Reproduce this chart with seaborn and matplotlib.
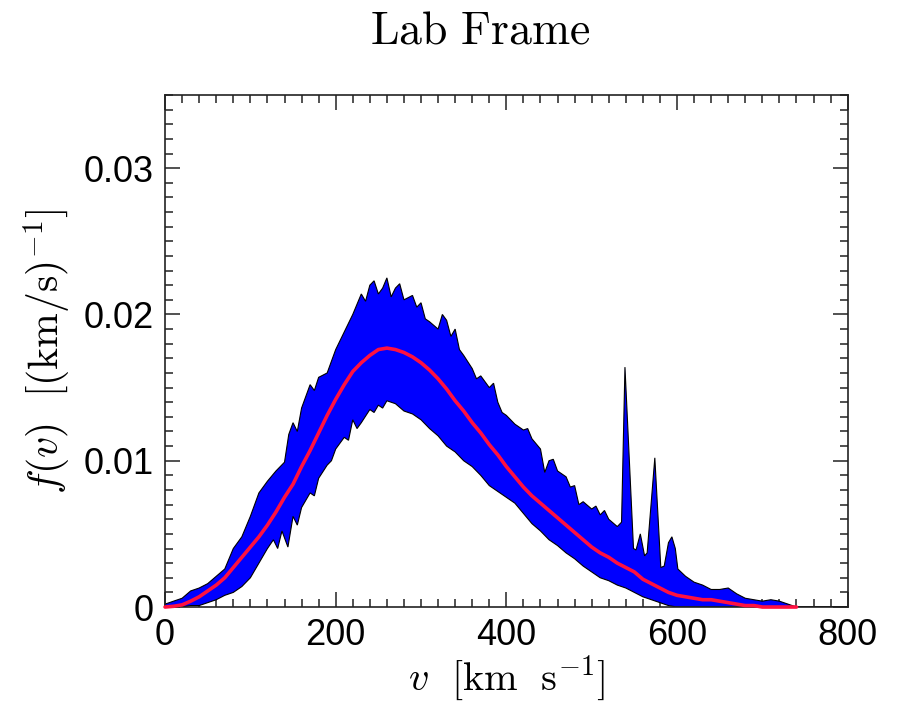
import numpy as np
import pandas as pd
import matplotlib
matplotlib.use("Agg")
import matplotlib.pyplot as plt
from matplotlib.ticker import MultipleLocator, FuncFormatter
import seaborn as sns

# Mean speed distribution (red curve)
v_mean = [0, 10, 20, 30, 40, 50, 60, 70, 80, 90, 100, 110, 120, 130, 140, 150,
          160, 170, 180, 190, 200, 210, 220, 230, 240, 250, 260, 270, 280, 290,
          300, 310, 320, 330, 340, 350, 360, 370, 380, 390, 400, 410, 420, 430,
          440, 450, 460, 470, 480, 490, 500, 510, 520, 530, 540, 550, 560, 570,
          580, 590, 600, 610, 620, 630, 640, 650, 660, 670, 680, 690, 700, 740]
f_mean = [0.0, 0.00005, 0.00015, 0.0004, 0.0007, 0.0011, 0.0015, 0.0020, 0.0027,
          0.0034, 0.0041, 0.0048, 0.0056, 0.0065, 0.0075, 0.0084, 0.0096, 0.0107,
          0.0119, 0.0131, 0.0142, 0.0152, 0.0161, 0.0167, 0.0172, 0.0176, 0.0177,
          0.0176, 0.0174, 0.0171, 0.0167, 0.0162, 0.0156, 0.0149, 0.0141, 0.0134,
          0.0126, 0.0119, 0.0111, 0.0104, 0.0096, 0.0089, 0.0082, 0.0076, 0.0071,
          0.0066, 0.0061, 0.0056, 0.0051, 0.0046, 0.0041, 0.0037, 0.0034, 0.0030,
          0.0027, 0.0024, 0.0019, 0.0016, 0.0013, 0.0010, 0.0008, 0.0007, 0.0006,
          0.0005, 0.0005, 0.0004, 0.0003, 0.0002, 0.0001, 0.0001, 0.0, 0.0]

# Upper envelope of the halo-to-halo scatter
v_upper = [0, 10, 20, 30, 40, 50, 60, 70, 80, 90, 100, 110, 115, 120, 130, 140,
           145, 150, 155, 160, 170, 175, 180, 190, 200, 210, 220, 230, 235, 240,
           245, 250, 255, 260, 265, 270, 275, 280, 290, 295, 300, 305, 310, 320,
           325, 330, 335, 340, 345, 350, 360, 365, 370, 380, 385, 390, 395, 400,
           410, 420, 425, 430, 440, 445, 450, 455, 460, 470, 475, 480, 485, 490,
           500, 505, 510, 515, 520, 530, 535, 539, 549, 552, 557, 562, 565, 574,
           581, 585, 590, 594, 598, 601, 610, 620, 630, 640, 650, 660, 670, 680,
           690, 700, 710, 720, 730, 740, 800]
f_upper = [0.0002, 0.0004, 0.0006, 0.0011, 0.0013, 0.0016, 0.0021, 0.0026, 0.0040,
           0.0048, 0.0062, 0.0078, 0.0082, 0.0086, 0.0093, 0.0099, 0.0118, 0.0126,
           0.0120, 0.0136, 0.0152, 0.0148, 0.0157, 0.0160, 0.0176, 0.0188, 0.0200,
           0.0214, 0.0209, 0.0220, 0.0223, 0.0214, 0.0218, 0.0225, 0.0212, 0.0218,
           0.0221, 0.0210, 0.0213, 0.0205, 0.0208, 0.0197, 0.0195, 0.0190, 0.0200,
           0.0196, 0.0185, 0.0190, 0.0176, 0.0172, 0.0163, 0.0156, 0.0158, 0.0150,
           0.0153, 0.0140, 0.0133, 0.0131, 0.0125, 0.0121, 0.0122, 0.0115, 0.0108,
           0.0092, 0.0100, 0.0101, 0.0093, 0.0089, 0.0082, 0.0083, 0.0070, 0.0072,
           0.0067, 0.0069, 0.0063, 0.0066, 0.0060, 0.0055, 0.0058, 0.0164, 0.0040,
           0.0039, 0.0050, 0.0035, 0.0037, 0.0102, 0.0027, 0.0028, 0.0044, 0.0048,
           0.0040, 0.0026, 0.0021, 0.0017, 0.0015, 0.0012, 0.0012, 0.0013, 0.0009,
           0.0006, 0.0005, 0.0004, 0.0005, 0.0004, 0.0002, 0.0, 0.0]

# Lower envelope
v_lower = [0, 20, 30, 40, 50, 60, 70, 80, 90, 100, 110, 120, 127, 132, 137, 144,
           150, 155, 160, 170, 175, 180, 190, 195, 200, 210, 215, 220, 225, 230,
           240, 245, 250, 255, 260, 270, 280, 290, 300, 310, 320, 330, 340, 350,
           360, 370, 380, 390, 400, 410, 420, 430, 440, 450, 460, 470, 480, 490,
           500, 510, 520, 530, 540, 550, 560, 570, 580, 590, 600, 800]
f_lower = [0.0, 0.0, 0.0001, 0.0001, 0.0003, 0.0005, 0.0008, 0.0010, 0.0014,
           0.0020, 0.0030, 0.0040, 0.0046, 0.0040, 0.0052, 0.0041, 0.0062, 0.0056,
           0.0068, 0.0078, 0.0076, 0.0088, 0.0097, 0.0100, 0.0108, 0.0116, 0.0114,
           0.0128, 0.0122, 0.0126, 0.0135, 0.0133, 0.0138, 0.0136, 0.0141, 0.0139,
           0.0134, 0.0132, 0.0128, 0.0122, 0.0117, 0.0110, 0.0106, 0.0100, 0.0096,
           0.0090, 0.0083, 0.0079, 0.0075, 0.0071, 0.0064, 0.0057, 0.0052, 0.0046,
           0.0042, 0.0037, 0.0033, 0.0028, 0.0024, 0.0020, 0.0018, 0.0015, 0.0013,
           0.0010, 0.0007, 0.0005, 0.0003, 0.0001, 0.0, 0.0]

x_ticks = [0, 200, 400, 600, 800]
y_ticks = [0, 0.01, 0.02, 0.03]

sns.set_style("ticks")
plt.rcParams["font.family"] = ["Liberation Sans", "DejaVu Sans"]
plt.rcParams["mathtext.fontset"] = "cm"
plt.rcParams["text.color"] = "black"
plt.rcParams["axes.labelcolor"] = "black"

fig = plt.figure(figsize=(8.97, 7.07), dpi=100)
ax = fig.add_axes([0.184, 0.1414, 0.761, 0.7242])

# Scatter band as a closed polygon: upper edge left->right, lower edge right->left
band_x = np.concatenate([v_upper, v_lower[::-1]])
band_y = np.concatenate([f_upper, f_lower[::-1]])
ax.fill(band_x, band_y, facecolor="#0000ff", edgecolor="black", linewidth=0.8,
        zorder=2)

mean_df = pd.DataFrame({"v": v_mean, "f": f_mean})
sns.lineplot(data=mean_df, x="v", y="f", ax=ax, color="#ff1040", linewidth=2.6,
             zorder=3, clip_on=False)

ax.set_xlim(0, 800)
ax.set_ylim(0, 0.035)
ax.set_xticks(x_ticks)
ax.set_yticks(y_ticks)
ax.xaxis.set_minor_locator(MultipleLocator(20))
ax.yaxis.set_minor_locator(MultipleLocator(0.001))
ax.yaxis.set_major_formatter(FuncFormatter(lambda y, _: "0" if y == 0 else f"{y:.2f}"))
ax.xaxis.set_major_formatter(FuncFormatter(lambda x, _: f"{x:.0f}"))

ax.tick_params(which="both", direction="in", top=True, right=True, color="#222222",
               width=1.1, labelcolor="black")
ax.tick_params(which="major", length=11, labelsize=26, pad=8)
ax.tick_params(which="minor", length=5.5)
for s in ax.spines.values():
    s.set_linewidth(1.2)
    s.set_color("#222222")

ax.set_xlabel(r"$v\ \ [\mathrm{km}\ \ \mathrm{s}^{-1}]$", fontsize=29, labelpad=0)
ax.set_ylabel(r"$f(v)\ \ [(\mathrm{km/s})^{-1}]$", fontsize=30, labelpad=8)
fig.text(0.535, 0.955, r"$\mathrm{Lab\ Frame}$", fontsize=33, ha="center", va="center")

fig.savefig("out.png", dpi=100)
